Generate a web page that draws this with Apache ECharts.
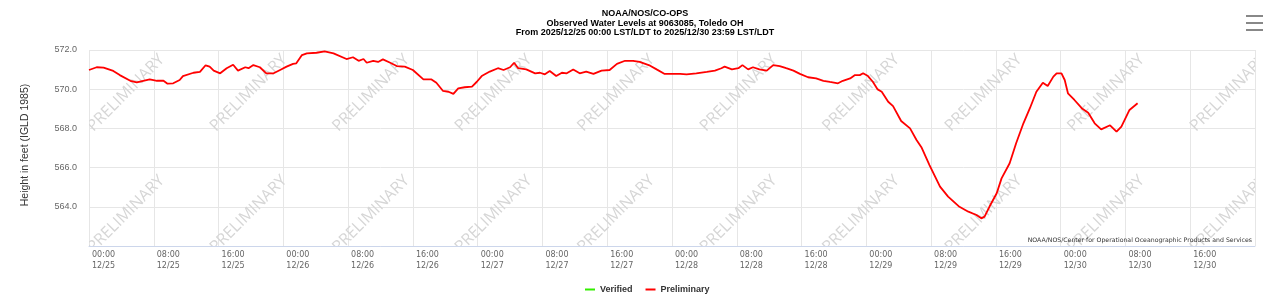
<!DOCTYPE html>
<html>
<head>
<meta charset="utf-8">
<script src="https://cdn.jsdelivr.net/npm/echarts@6/dist/echarts.min.js"></script>
<style>
html,body{margin:0;padding:0;background:#fff;}
#chart{width:1263px;height:300px;}
</style>
</head>
<body>
<div id="chart"></div>
<script>
// ---- data (hours since 2025/12/25 00:00 LST/LDT, feet IGLD 1985) ----
var hoursFromStart = [0.0,0.95,1.8,3.0,3.8,5.1,5.9,6.7,7.5,8.4,9.2,9.7,10.4,11.2,11.6,12.9,13.7,14.4,14.9,15.4,
  16.2,17.0,17.8,18.4,19.3,19.7,20.3,21.1,21.9,22.8,23.6,24.4,25.2,25.6,26.3,26.9,28.1,29.1,30.2,31.8,
  32.6,33.3,33.9,34.3,35.1,35.7,36.3,37.2,38.0,39.0,40.0,41.3,42.3,42.9,43.7,44.4,45.0,45.6,46.4,47.3,
  47.9,48.5,49.5,50.5,51.2,52.0,52.5,53.0,54.0,55.1,55.7,56.3,56.9,57.7,58.4,59.0,59.8,60.6,61.4,62.3,
  63.3,64.3,65.2,66.2,67.2,68.0,69.3,70.1,71.1,72.1,73.0,73.8,75.0,76.3,77.3,78.1,78.5,79.4,80.2,80.7,
  81.4,82.0,82.8,83.7,84.5,85.3,86.1,87.0,87.8,88.8,89.8,90.7,91.5,92.5,93.1,94.0,94.6,95.2,95.6,96.2,
  96.8,97.4,97.9,98.7,99.3,100.3,101.4,102.2,102.8,103.8,105.1,106.1,107.5,108.6,109.6,110.2,110.6,111.2,112.1,112.7,
  113.7,114.5,115.4,116.2,117.0,117.8,118.4,119.1,119.5,120.1,120.5,120.9,121.7,122.6,123.4,124.2,125.0,126.1,126.9,127.5,
  128.5,129.5];
var waterLevel = [570.98,571.12,571.10,570.93,570.72,570.43,570.35,570.43,570.50,570.43,570.43,570.28,570.30,570.47,570.67,570.84,570.88,571.22,571.15,570.95,
  570.81,571.07,571.25,570.95,571.12,571.07,571.23,571.12,570.81,570.81,570.98,571.15,571.29,571.32,571.74,571.83,571.86,571.93,571.83,571.54,
  571.63,571.45,571.54,571.35,571.45,571.39,571.52,571.35,571.18,571.15,570.98,570.50,570.50,570.33,569.92,569.87,569.76,570.04,570.10,570.13,
  570.38,570.67,570.90,571.07,570.98,571.12,571.35,571.07,571.01,570.81,570.84,570.76,570.93,570.67,570.84,570.81,571.01,570.81,570.90,570.78,
  570.95,570.98,571.29,571.45,571.45,571.39,571.20,571.01,570.78,570.78,570.78,570.76,570.81,570.88,570.95,571.07,571.15,571.01,571.07,571.23,
  571.01,571.12,571.01,570.95,571.23,571.18,571.07,570.95,570.78,570.61,570.55,570.43,570.37,570.30,570.43,570.55,570.72,570.72,570.81,570.67,
  570.38,569.99,569.87,569.36,569.14,568.38,568.00,567.41,567.04,566.13,565.03,564.52,564.00,563.75,563.58,563.41,563.50,564.00,564.69,565.45,
  566.22,567.24,568.26,569.03,569.87,570.33,570.16,570.64,570.81,570.81,570.47,569.79,569.45,569.03,568.80,568.26,567.95,568.16,567.83,568.09,
  568.94,569.28];
var xTickLabels = ['00:00\n12/25','08:00\n12/25','16:00\n12/25','00:00\n12/26','08:00\n12/26','16:00\n12/26',
  '00:00\n12/27','08:00\n12/27','16:00\n12/27','00:00\n12/28','08:00\n12/28','16:00\n12/28',
  '00:00\n12/29','08:00\n12/29','16:00\n12/29','00:00\n12/30','08:00\n12/30','16:00\n12/30','00:00\n12/31'];
var yTicks = [562, 564, 566, 568, 570, 572];
var seriesNames = ['Verified', 'Preliminary'];
var titleLines = ['NOAA/NOS/CO-OPS', 'Observed Water Levels at 9063085, Toledo OH', 'From 2025/12/25 00:00 LST/LDT to 2025/12/30 23:59 LST/LDT'];
var yAxisTitle = 'Height in feet (IGLD 1985)';
var creditText = 'NOAA/NOS/Center for Operational Oceanographic Products and Services';
var watermarkText = 'PRELIMINARY';

var chart = echarts.init(document.getElementById('chart'), null, {renderer: 'canvas'});

var lineData = hoursFromStart.map(function (h, i) { return [h, waterLevel[i]]; });

function watermarkRender(params, api) {
  var cs = params.coordSys;
  var kids = [];
  for (var r = 0; r < 2; r++) {
    for (var c = 0; c < 10; c++) {
      kids.push({
        type: 'text',
        x: cs.x + 37 + 122.5 * c,
        y: cs.y + 43 + 121 * r,
        rotation: Math.PI / 4,
        style: {
          text: watermarkText,
          font: '16px "Open Sans", "DejaVu Sans", sans-serif',
          fill: '#d6d6d6',
          align: 'center',
          verticalAlign: 'middle'
        }
      });
    }
  }
  return {type: 'group', children: kids};
}

var option = {
  animation: false,
  backgroundColor: '#ffffff',
  title: {
    text: titleLines.join('\n'),
    left: 640,
    top: 4,
    textAlign: 'center',
    textStyle: {fontFamily: '"Liberation Sans", Arial, sans-serif', fontSize: 9, fontWeight: 'bold', color: '#000', lineHeight: 9.6}
  },
  legend: {
    data: seriesNames,
    left: 580,
    top: 280,
    icon: 'rect',
    itemWidth: 10,
    itemHeight: 2,
    itemGap: 13,
    textStyle: {fontFamily: '"Liberation Sans", Arial, sans-serif', fontSize: 9, fontWeight: 'bold', color: '#333'}
  },
  grid: {left: 89, right: 8, top: 50, bottom: 54, containLabel: false, outerBoundsMode: 'none'},
  xAxis: {
    type: 'value',
    min: 0,
    max: (xTickLabels.length - 1) * 8,
    interval: 8,
    axisLine: {show: true, onZero: false, lineStyle: {color: '#ccd6eb', width: 1}},
    axisTick: {show: false},
    splitLine: {show: true, lineStyle: {color: '#e6e6e6', width: 1}},
    axisLabel: {
      showMaxLabel: false,
      showMinLabel: true,
      align: 'left',
      margin: 3,
      padding: [0, 0, 0, 3],
      lineHeight: 11,
      color: '#666',
      fontFamily: '"DejaVu Sans", sans-serif',
      fontSize: 8,
      formatter: function (v) { return xTickLabels[Math.round(v / 8)] || ''; }
    }
  },
  yAxis: {
    type: 'value',
    min: yTicks[0],
    max: yTicks[yTicks.length - 1],
    interval: 2,
    name: yAxisTitle,
    nameLocation: 'middle',
    nameRotate: 90,
    nameGap: 58,
    nameTextStyle: {fontFamily: '"Liberation Sans", Arial, sans-serif', fontSize: 10.5, color: '#333', padding: [0, 0, 0, 6]},
    axisLine: {show: false},
    axisTick: {show: false},
    splitLine: {show: true, lineStyle: {color: '#e6e6e6', width: 1}},
    axisLabel: {
      showMinLabel: false,
      margin: 12,
      color: '#666',
      fontFamily: '"Liberation Sans", Arial, sans-serif',
      fontSize: 9,
      formatter: function (v) { return v.toFixed(1); }
    }
  },
  series: [
    {
      name: '__watermark',
      type: 'custom',
      silent: true,
      clip: true,
      z: 1,
      renderItem: watermarkRender,
      data: [[0, yTicks[0]]]
    },
    {
      name: seriesNames[0],
      type: 'line',
      color: '#33ee00',
      showSymbol: false,
      data: []
    },
    {
      name: seriesNames[1],
      type: 'line',
      color: '#ff0000',
      showSymbol: false,
      z: 3,
      lineStyle: {width: 1.8, color: '#ff0000'},
      data: lineData
    }
  ],
  graphic: [
    {type: 'text', x: 1252, y: 240, z: 10, style: {text: creditText, align: 'right', verticalAlign: 'middle', font: '6.2px "DejaVu Sans", sans-serif', fill: '#333'}},
    {type: 'rect', x: 1246, y: 15, z: 10, shape: {width: 17, height: 2}, style: {fill: '#888'}},
    {type: 'rect', x: 1246, y: 22, z: 10, shape: {width: 17, height: 2}, style: {fill: '#888'}},
    {type: 'rect', x: 1246, y: 29, z: 10, shape: {width: 17, height: 2}, style: {fill: '#888'}}
  ]
};
chart.setOption(option);
</script>
</body>
</html>
